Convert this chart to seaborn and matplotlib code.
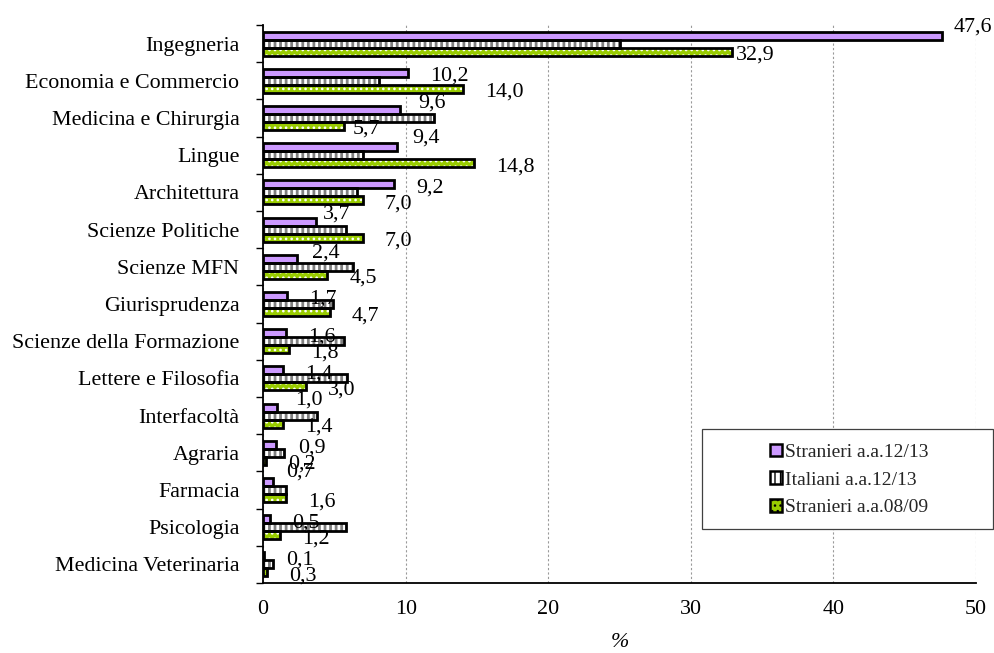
import numpy as np
import pandas as pd
import matplotlib
matplotlib.use("Agg")
import matplotlib.pyplot as plt
from matplotlib.patches import Rectangle, Patch
import seaborn as sns

# Distribution of enrolled students by faculty (%)
facolta = [
    "Ingegneria", "Economia e Commercio", "Medicina e Chirurgia", "Lingue",
    "Architettura", "Scienze Politiche", "Scienze MFN", "Giurisprudenza",
    "Scienze della Formazione", "Lettere e Filosofia", "Interfacoltà",
    "Agraria", "Farmacia", "Psicologia", "Medicina Veterinaria",
]
stranieri_1213 = [47.6, 10.2, 9.6, 9.4, 9.2, 3.7, 2.4, 1.7, 1.6, 1.4, 1.0, 0.9, 0.7, 0.5, 0.1]
italiani_1213 = [25.0, 8.1, 12.0, 7.0, 6.6, 5.8, 6.3, 4.9, 5.7, 5.9, 3.8, 1.5, 1.6, 5.8, 0.7]
stranieri_0809 = [32.9, 14.0, 5.7, 14.8, 7.0, 7.0, 4.5, 4.7, 1.8, 3.0, 1.4, 0.2, 1.6, 1.2, 0.3]
serie = ["Stranieri a.a.12/13", "Italiani a.a.12/13", "Stranieri a.a.08/09"]
x_ticks = [0, 10, 20, 30, 40, 50]

valori = [stranieri_1213, italiani_1213, stranieri_0809]
df = pd.DataFrame({
    "Facoltà": facolta * len(serie),
    "Serie": [s for s in serie for _ in facolta],
    "Valore": [v for vals in valori for v in vals],
})

# styling per series: fill, hatch colour, hatch pattern, hatch width, labelled?
fills = ["#CC99FF", "#FFFFFF", "#99CC00"]
hatch_cols = ["#CC99FF", "#808080", "#FFFFFF"]
hatches = ["", "|||", "..."]
hatch_widths = [1.0, 2.0, 1.1]
labelled = [True, False, True]

# label nudges (pixels right, pixels down) where labels would collide
default_nudge = (22, 1)
nudges = {
    (0, 0): (12, -11), (0, 2): (4, 1),
    (2, 0): (18, -9), (2, 2): (8, 0),
    (3, 0): (15, -11.5),
    (5, 0): (7, -9.5),
    (6, 0): (15, -8),
    (10, 0): (18, -10),
    (12, 0): (13, -12),
}

sns.set_theme(style="white")
plt.rcParams["font.family"] = ["Liberation Serif", "DejaVu Serif"]
FS = 15.8


def set_hatch_width(patch, width):
    if hasattr(patch, "set_hatch_linewidth"):
        patch.set_hatch_linewidth(width)
    else:
        patch._hatch_linewidth = width


fig = plt.figure(figsize=(9.94, 6.53), dpi=100)
ax = fig.add_axes([0.2646, 0.1072, 0.7173, 0.8545])

sns.barplot(
    data=df, y="Facoltà", x="Valore", hue="Serie", order=facolta,
    hue_order=serie, orient="h", width=0.65, gap=0,
    palette=dict(zip(serie, fills)), saturation=1, legend=False,
    linewidth=0, edgecolor="none", ax=ax,
)

band = 0.65 / len(serie)
for bar in list(ax.patches):
    yc = bar.get_y() + bar.get_height() / 2
    cat = int(round(yc))
    s = int(round((yc - cat) / band)) + 1
    bar.set_facecolor(fills[s])
    bar.set_edgecolor(hatch_cols[s])
    bar.set_hatch(hatches[s])
    set_hatch_width(bar, hatch_widths[s])
    bar.set_linewidth(0)
    bar.set_zorder(2)
    ax.add_patch(Rectangle((bar.get_x(), bar.get_y()), bar.get_width(),
                           bar.get_height(), fill=False, edgecolor="black",
                           linewidth=2, zorder=2.2))
    if labelled[s]:
        v = valori[s][cat]
        dx, dy = nudges.get((cat, s), default_nudge)
        ax.annotate(f"{v:.1f}".replace(".", ","), xy=(v, yc),
                    xytext=(dx, -dy), textcoords="offset pixels",
                    ha="left", va="center_baseline", fontsize=FS,
                    color="black", zorder=3, annotation_clip=False)

ax.set_xlim(0, 50)
ax.set_ylim(len(facolta) - 0.5, -0.5)
ax.set_xticks(x_ticks)
ax.set_xticklabels([str(t) for t in x_ticks])
ax.set_yticks(range(len(facolta)))
ax.set_yticklabels(facolta)
ax.set_yticks(np.arange(-0.5, len(facolta)), minor=True)
ax.tick_params(axis="x", length=0, pad=12, labelsize=FS, colors="black")
ax.tick_params(axis="y", which="major", length=0, pad=17, labelsize=FS,
               colors="black")
ax.tick_params(axis="y", which="minor", left=True, length=5, width=1,
               color="black")
ax.xaxis.grid(True, color="#9A9A9A", linestyle=(0, (2, 2)), linewidth=0.8)
ax.yaxis.grid(False)
ax.set_axisbelow(True)
for side in ("top", "right"):
    ax.spines[side].set_visible(False)
for side in ("left", "bottom"):
    ax.spines[side].set_color("black")
    ax.spines[side].set_linewidth(1.3)
ax.set_ylabel("")
ax.set_xlabel("%", fontsize=FS, fontstyle="italic", labelpad=10, color="black")

# legend box
fig.add_artist(Rectangle((0.7062, 0.1899), 0.2928, 0.1531,
                         transform=fig.transFigure, facecolor="white",
                         edgecolor="#404040", linewidth=0.9, zorder=4))
handles = []
for i in range(len(serie)):
    h = Patch(facecolor=fills[i], edgecolor="black", linewidth=1.8,
              hatch=hatches[i])
    set_hatch_width(h, 1.0)
    handles.append(h)
fig.legend(handles, serie, loc="center",
           bbox_to_anchor=(849 / 994, 1 - 480 / 653),
           bbox_transform=fig.transFigure, frameon=False, fontsize=14,
           handlelength=0.6, handleheight=0.6, handletextpad=0.15,
           labelspacing=0.55, borderpad=0)

fig.savefig("out.png", dpi=100)
